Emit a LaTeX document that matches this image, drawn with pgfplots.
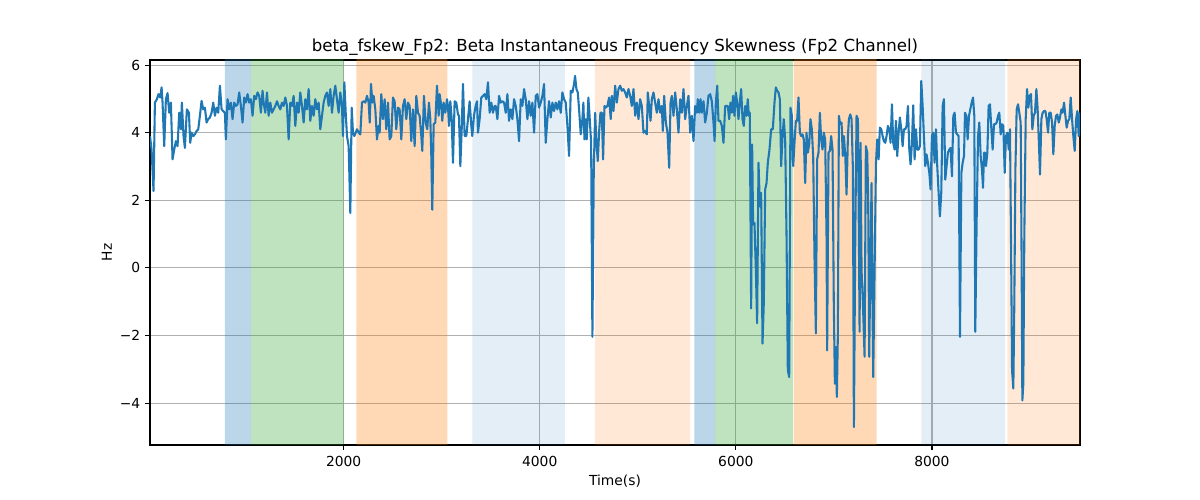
\documentclass[border=0pt]{standalone}
\usepackage{pgfplots}
\pgfplotsset{compat=1.18}
\usepackage{pgfplotstable}
\usepackage{fontspec}
\setmainfont{DejaVu Sans}
\definecolor{Cblue}{HTML}{1F77B4}
\definecolor{Corange}{HTML}{FF7F0E}
\definecolor{Cgreen}{HTML}{2CA02C}
\definecolor{gridc}{HTML}{B0B0B0}
\pgfplotstableread{
x y
25 3.90
41 3.50
61 2.27
75 4.89
95 4.99
112 5.14
129 5.04
143 5.34
153 4.89
170 3.60
187 4.99
204 5.17
221 4.59
238 4.89
255 3.21
272 3.50
289 3.75
306 3.60
323 4.59
340 4.10
350 4.89
367 3.90
381 3.55
401 4.69
422 4.59
435 3.70
449 4.00
466 3.90
483 3.95
500 4.05
517 4.10
534 4.50
551 4.94
568 4.69
585 4.74
602 4.30
619 4.40
636 4.45
653 4.59
670 4.89
687 4.50
704 4.74
721 4.59
738 5.39
755 4.69
772 4.64
789 4.59
799 3.80
816 4.99
833 4.69
850 4.89
867 4.40
884 4.89
901 4.79
918 4.84
935 5.19
952 4.79
969 4.30
986 5.04
1003 4.89
1020 5.14
1037 4.89
1054 4.99
1071 4.50
1088 5.09
1105 4.99
1122 5.19
1139 5.09
1156 4.59
1173 5.24
1184 4.89
1201 4.59
1218 5.19
1235 4.50
1252 4.89
1269 4.59
1286 4.69
1303 4.79
1320 4.93
1337 4.79
1354 4.69
1371 4.89
1388 4.79
1405 5.04
1422 4.79
1439 3.80
1456 4.89
1473 4.79
1490 5.09
1507 4.20
1524 4.89
1541 4.59
1558 5.19
1575 4.79
1592 4.30
1609 4.99
1626 4.69
1643 5.29
1660 4.35
1677 4.79
1694 4.50
1711 4.99
1728 4.69
1745 4.89
1762 4.10
1779 4.50
1796 4.89
1813 5.09
1830 5.19
1847 4.79
1864 5.29
1881 4.59
1898 5.09
1915 5.39
1932 4.99
1949 4.59
1966 5.19
1983 4.79
1993 3.90
2007 5.49
2021 4.59
2034 3.90
2051 3.60
2068 1.62
2082 4.74
2095 4.00
2109 3.90
2123 4.00
2136 4.10
2153 4.00
2170 3.95
2187 4.89
2204 4.93
2221 4.89
2238 5.09
2255 4.89
2266 4.30
2279 5.44
2293 4.89
2306 5.09
2323 4.69
2340 3.80
2357 4.20
2367 4.00
2384 5.14
2401 4.40
2418 4.99
2435 4.10
2452 4.89
2469 3.80
2486 3.90
2503 5.04
2520 4.93
2537 4.10
2554 4.74
2571 4.69
2588 3.80
2605 4.79
2622 4.99
2639 4.40
2656 4.89
2673 4.79
2690 3.75
2707 4.69
2724 3.60
2741 5.09
2758 4.59
2775 4.50
2792 3.90
2802 3.46
2819 5.09
2836 4.30
2853 4.10
2870 4.89
2884 4.40
2894 3.31
2904 1.72
2918 4.25
2935 4.30
2952 5.39
2969 4.50
2979 5.14
2996 4.79
3006 4.35
3020 4.89
3037 4.59
3054 4.99
3064 4.79
3074 4.20
3088 4.93
3102 4.40
3115 3.11
3132 4.93
3149 4.89
3166 4.54
3176 4.50
3190 3.01
3204 4.10
3217 5.44
3234 3.90
3251 3.90
3268 4.40
3285 4.93
3302 4.20
3312 3.90
3329 4.50
3346 4.79
3360 4.93
3370 4.00
3387 4.40
3404 5.04
3421 5.09
3438 5.14
3455 4.99
3472 5.49
3489 4.59
3506 4.89
3523 4.59
3540 4.79
3551 4.79
3568 4.40
3585 5.09
3602 4.89
3619 4.93
3636 4.89
3653 4.59
3670 5.14
3687 4.35
3704 4.69
3721 4.40
3738 4.99
3755 4.79
3772 4.40
3789 3.75
3806 4.99
3823 4.79
3840 5.29
3857 4.99
3874 4.40
3891 4.93
3908 4.50
3925 4.89
3942 4.00
3959 5.09
3976 5.14
3993 4.74
4010 4.89
4027 5.09
4044 5.44
4061 3.70
4078 4.40
4095 4.93
4112 4.45
4129 4.89
4146 4.64
4163 4.89
4180 4.69
4197 4.93
4214 4.59
4231 5.19
4248 4.99
4265 4.89
4282 4.20
4299 3.31
4316 5.24
4333 5.19
4350 5.44
4360 5.68
4374 5.29
4388 5.19
4401 4.69
4418 3.95
4435 4.40
4445 4.89
4456 3.80
4469 4.40
4479 3.80
4496 5.04
4510 4.40
4524 3.70
4537 -2.04
4551 2.91
4565 4.59
4578 3.70
4592 3.16
4605 4.00
4619 4.59
4633 4.59
4646 3.21
4660 4.79
4673 4.74
4690 4.79
4707 5.04
4724 4.40
4735 5.09
4752 4.64
4769 5.39
4786 4.89
4803 5.29
4820 5.39
4837 5.24
4854 5.29
4871 5.19
4888 5.04
4905 5.29
4922 5.09
4939 4.79
4956 5.29
4973 4.50
4990 4.89
5007 4.40
5024 4.99
5041 4.79
5058 4.00
5075 4.05
5092 3.95
5102 5.19
5116 4.79
5130 4.35
5143 4.99
5160 5.19
5177 4.89
5194 4.59
5211 4.99
5228 4.59
5245 4.79
5255 4.05
5269 5.09
5286 4.30
5303 4.00
5320 2.96
5334 4.89
5347 5.09
5364 4.50
5381 5.19
5398 4.69
5415 4.00
5432 4.99
5449 4.59
5466 5.29
5483 4.40
5500 4.79
5517 5.09
5534 4.00
5551 4.50
5568 3.75
5585 4.79
5602 4.59
5612 4.99
5626 4.59
5640 4.99
5653 4.59
5670 4.93
5687 4.30
5704 4.59
5721 5.09
5738 5.14
5755 4.93
5772 4.30
5783 3.75
5796 4.89
5810 5.39
5823 4.35
5840 4.35
5857 4.20
5874 3.70
5891 4.79
5918 4.79
5932 4.40
5945 4.89
5959 4.59
5972 5.09
5986 4.50
6000 5.19
6013 4.89
6027 4.40
6040 4.89
6054 5.29
6068 4.40
6081 4.20
6095 4.79
6108 4.50
6122 4.99
6132 4.50
6142 4.59
6156 -1.20
6166 3.65
6176 1.28
6190 1.33
6204 -0.06
6217 -1.64
6231 3.11
6245 1.82
6258 2.22
6272 -2.24
6285 -1.05
6299 2.32
6313 2.51
6326 3.11
6343 3.50
6360 4.10
6377 4.10
6394 4.89
6408 5.34
6421 5.24
6435 5.19
6449 4.99
6462 3.01
6476 3.90
6489 4.40
6503 3.80
6517 0.93
6530 -3.03
6544 -3.23
6557 4.74
6571 4.50
6585 3.01
6598 3.70
6612 4.35
6625 4.35
6639 5.04
6653 4.00
6666 3.90
6680 3.95
6693 3.80
6707 2.51
6721 4.00
6734 3.41
6748 3.65
6761 4.40
6775 4.10
6789 3.26
6802 0.34
6816 -1.94
6829 3.21
6843 3.41
6857 4.59
6870 3.80
6884 3.50
6897 4.00
6911 3.80
6925 0.93
6931 -2.44
6945 3.41
6959 3.46
6972 3.90
6986 3.50
6999 -1.05
7010 -3.43
7020 -2.34
7030 -3.82
7040 -2.04
7051 4.50
7064 4.25
7078 4.30
7091 3.31
7102 3.90
7116 3.31
7129 2.17
7143 3.90
7153 4.40
7167 4.54
7180 4.40
7194 2.91
7204 -4.71
7218 0.93
7231 4.50
7245 4.40
7255 0.93
7262 -1.89
7272 3.70
7282 -0.06
7296 -1.05
7313 -2.63
7326 3.60
7340 3.41
7350 1.92
7360 -2.63
7374 0.44
7384 2.51
7394 -1.05
7401 -3.23
7415 -0.06
7429 3.11
7442 3.80
7456 3.21
7469 4.15
7483 4.10
7497 3.90
7510 3.75
7524 3.70
7537 3.90
7551 4.20
7565 4.10
7578 3.70
7592 4.84
7605 3.70
7619 3.50
7633 4.35
7646 3.31
7660 4.00
7673 4.45
7687 4.10
7701 3.60
7714 4.10
7728 4.10
7741 4.20
7755 4.79
7769 3.50
7782 3.06
7796 3.70
7809 4.81
7823 3.21
7837 4.10
7850 3.50
7864 3.50
7877 3.60
7891 5.53
7905 4.79
7918 3.90
7932 3.01
7945 3.36
7959 3.11
7973 2.81
7986 2.32
8000 3.90
8013 4.00
8027 3.11
8041 4.10
8054 3.01
8068 2.22
8081 1.52
8095 2.22
8109 4.79
8122 4.99
8136 2.61
8149 3.01
8163 3.41
8177 3.50
8190 3.55
8204 2.71
8218 4.50
8231 4.59
8245 4.00
8258 3.95
8272 3.90
8286 -2.04
8300 2.81
8313 3.11
8327 3.31
8337 4.59
8351 4.50
8364 3.80
8378 4.50
8391 4.69
8405 4.89
8419 5.04
8432 4.50
8442 -1.89
8456 1.43
8470 3.90
8483 4.30
8497 3.31
8510 2.91
8521 2.37
8531 3.41
8541 3.41
8551 3.01
8565 3.41
8578 4.79
8592 4.84
8606 4.10
8619 3.50
8633 4.25
8647 4.25
8660 4.30
8674 4.50
8687 4.59
8701 3.95
8715 4.25
8728 4.20
8742 2.81
8755 3.90
8769 4.00
8783 3.50
8796 4.10
8806 0.93
8817 -3.03
8830 -3.57
8840 -1.05
8851 2.91
8864 4.69
8878 4.84
8891 4.59
8905 4.30
8915 -0.06
8922 -3.92
8932 -3.43
8942 0.93
8956 4.40
8970 5.29
8983 4.74
8997 5.09
9010 5.14
9024 4.10
9038 4.50
9051 4.59
9065 5.29
9078 4.69
9092 3.60
9102 2.76
9116 4.40
9129 4.59
9143 4.64
9157 4.64
9170 4.40
9184 4.00
9197 4.59
9211 4.59
9225 4.30
9238 3.36
9252 4.20
9265 4.50
9279 4.54
9293 4.30
9306 4.45
9320 4.69
9333 4.59
9347 4.89
9361 4.50
9374 4.15
9388 4.35
9401 4.40
9415 5.04
9429 4.40
9442 3.90
9456 3.46
9470 4.40
9483 4.64
9497 3.90
9510 4.59
}\datatable
\begin{document}
\fontsize{10}{12}\selectfont
\begin{tikzpicture}
\path[use as bounding box] (0,0) rectangle (864bp,360bp);
\begin{axis}[
  at={(108bp,39.6bp)}, anchor=south west,
  scale only axis, width=669.6bp, height=277.2bp,
  xmin=25, xmax=9510, ymin=-5.24, ymax=6.15,
  xtick={2000,4000,6000,8000},
  xticklabels={2000,4000,6000,8000},
  ytick={-4,-2,0,2,4,6},
  yticklabels={−4,−2,0,2,4,6},
  tick pos=left, tick align=outside,
  major tick length=3.5bp,
  tick style={black, line width=0.8bp},
  axis line style={black, line width=0.8bp},
  grid=major,
  major grid style={gridc, line width=0.8bp},
  ticklabel style={font=\fontsize{10}{12}\selectfont},
  xticklabel style={yshift=-1bp},
  title={beta\_fskew\_Fp2: Beta Instantaneous Frequency Skewness (Fp2 Channel)},
  title style={at={(axis description cs:0.5,1.0216)}, anchor=base, font=\fontsize{12}{14}\selectfont, inner sep=0pt, yshift=-6pt},
  xlabel={Time(s)},
  xlabel style={at={(axis description cs:0.5,-0.0938)}, anchor=center, inner sep=0pt},
  ylabel={Hz},
  ylabel style={at={(axis description cs:-0.0463,0.5)}, anchor=center, inner sep=0pt},
]
\addplot[draw=none, fill=Cblue, fill opacity=0.3] coordinates {(789,-10) (789,10) (1054,10) (1054,-10) (789,-10)};
\addplot[draw=none, fill=Cgreen, fill opacity=0.3] coordinates {(1054,-10) (1054,10) (2000,10) (2000,-10) (1054,-10)};
\addplot[draw=none, fill=Corange, fill opacity=0.3] coordinates {(2129,-10) (2129,10) (3058,10) (3058,-10) (2129,-10)};
\addplot[draw=none, fill=Cblue, fill opacity=0.12] coordinates {(3313,-10) (3313,10) (4255,10) (4255,-10) (3313,-10)};
\addplot[draw=none, fill=Corange, fill opacity=0.17] coordinates {(4561,-10) (4561,10) (5534,10) (5534,-10) (4561,-10)};
\addplot[draw=none, fill=Cblue, fill opacity=0.3] coordinates {(5578,-10) (5578,10) (5789,10) (5789,-10) (5578,-10)};
\addplot[draw=none, fill=Cgreen, fill opacity=0.3] coordinates {(5789,-10) (5789,10) (6582,10) (6582,-10) (5789,-10)};
\addplot[draw=none, fill=Corange, fill opacity=0.3] coordinates {(6590,-10) (6590,10) (7435,10) (7435,-10) (6590,-10)};
\addplot[draw=none, fill=Cblue, fill opacity=0.12] coordinates {(7891,-10) (7891,10) (8745,10) (8745,-10) (7891,-10)};
\addplot[draw=none, fill=Corange, fill opacity=0.17] coordinates {(8769,-10) (8769,10) (9600,10) (9600,-10) (8769,-10)};
\addplot[Cblue, line width=1.5bp, line join=round, mark=none] table[x=x, y=y] {\datatable};
\end{axis}
\end{tikzpicture}
\end{document}
